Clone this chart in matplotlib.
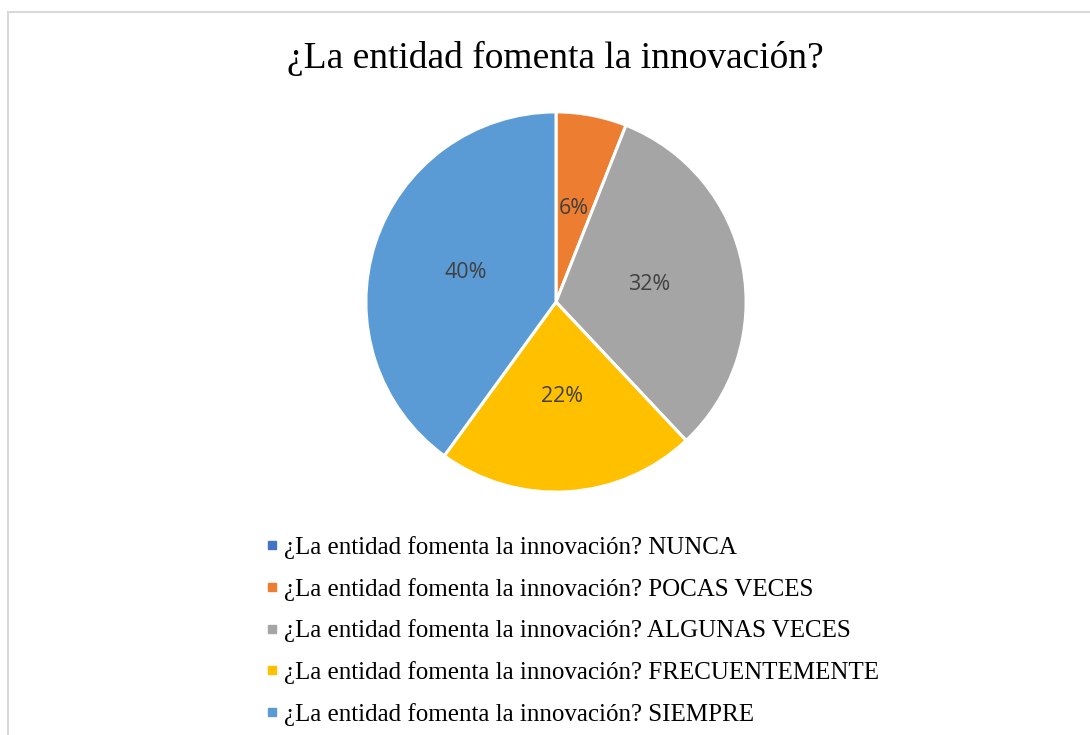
import matplotlib
matplotlib.use("Agg")
import matplotlib.pyplot as plt
from matplotlib.lines import Line2D
from matplotlib.patches import Rectangle

# data
title = "¿La entidad fomenta la innovación?"
categories = ["NUNCA", "POCAS VECES", "ALGUNAS VECES", "FRECUENTEMENTE", "SIEMPRE"]
values = [0, 6, 32, 22, 40]
colors = ["#4472C4", "#ED7D31", "#A5A5A5", "#FFC000", "#5B9BD5"]

fig = plt.figure(figsize=(10.9, 7.35), dpi=100)

# light frame like the Excel chart area
fig.patches.append(Rectangle((8 / 1090, -0.1), 1.2, (735 - 12) / 735 + 0.1,
                             transform=fig.transFigure, fill=False,
                             edgecolor="#D9D9D9", linewidth=1.5))

fig.text(555 / 1090, 1 - 58 / 735, title, ha="center", va="center",
         fontsize=27, family="Liberation Serif", color="#000000")

ax = fig.add_axes([(556 - 192) / 1090, (735 - 494) / 735, 384 / 1090, 384 / 735])


def pct(p):
    return f"{p:.0f}%" if p > 0.5 else ""


wedges, texts, autotexts = ax.pie(
    values, colors=colors, startangle=90, counterclock=False,
    autopct=pct, pctdistance=0.5,
    wedgeprops=dict(edgecolor="white", linewidth=2.2),
    textprops=dict(fontsize=15.5, family="Open Sans", color="#404040"),
)
ax.set_xlim(-1.01, 1.01)
ax.set_ylim(-1.01, 1.01)
ax.set_aspect("equal")
ax.axis("off")

handles = [Line2D([0], [0], marker="s", linestyle="", markersize=6,
                  markerfacecolor=c, markeredgecolor=c) for c in colors]
labels = [f"{title} {c}" for c in categories]
fig.legend(handles, labels, loc="upper left",
           bbox_to_anchor=(266 / 1090, 1 - 536 / 735), frameon=False,
           prop=dict(family="Liberation Serif", size=18),
           handlelength=0.5, handletextpad=0.2, labelspacing=0.75,
           borderaxespad=0, borderpad=0)

fig.savefig("out.png", dpi=100, facecolor="white")
